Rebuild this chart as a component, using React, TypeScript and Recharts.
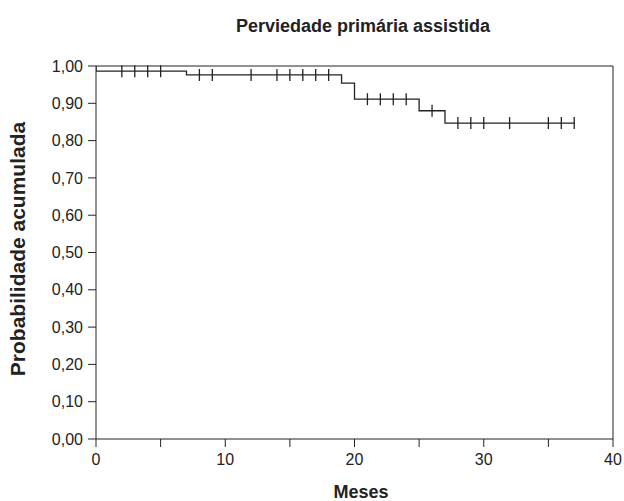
import { ComposedChart, Line, Scatter, XAxis, YAxis, ReferenceLine } from 'recharts';

// Kaplan-Meier step points (time in months, cumulative probability)
const stepTimes = [0, 0, 7, 19, 20, 25, 27, 37];
const stepSurv = [1.0, 0.986, 0.976, 0.954, 0.911, 0.88, 0.847, 0.847];

// censored observations (months)
const censorTimes = [2, 3, 4, 5, 8, 9, 12, 14, 15, 16, 17, 18, 21, 22, 23, 24, 26, 28, 29, 30, 32, 35, 36, 37];

const xTicks = [0, 5, 10, 15, 20, 25, 30, 35, 40];
const yTicks = [0, 0.1, 0.2, 0.3, 0.4, 0.5, 0.6, 0.7, 0.8, 0.9, 1.0];

const stepData = stepTimes.map((t, i) => ({ t, s: stepSurv[i] }));

const survAt = (t: number) => {
  let s = stepSurv[0];
  stepTimes.forEach((st, i) => {
    if (st <= t) s = stepSurv[i];
  });
  return s;
};
const censorData = censorTimes.map((t) => ({ t, s: survAt(t) }));

const font = '"Liberation Sans", Arial, sans-serif';

const CensorMark = (props: any) => {
  const { cx, cy } = props;
  return <line x1={cx} x2={cx} y1={cy - 6} y2={cy + 6} stroke="#222" strokeWidth={1.3} />;
};

const fmtY = (v: number) => v.toFixed(2).replace('.', ',');
const fmtX = (v: number) => (v % 10 === 0 ? String(v) : '');

export default function App() {
  return (
    <div style={{ position: 'absolute', left: 0, top: 0, width: 624, height: 501, background: '#fff', fontFamily: font }}>
      <ComposedChart width={624} height={501} margin={{ top: 66, right: 11, bottom: 0, left: 0 }}>
        <XAxis
          type="number"
          dataKey="t"
          domain={[0, 40]}
          ticks={xTicks}
          interval={0}
          allowDataOverflow
          height={62}
          stroke="#222"
          tickSize={8}
          tickMargin={7}
          tickFormatter={fmtX}
          tick={{ fill: '#222', fontSize: 16, fontFamily: font }}
        />
        <YAxis
          type="number"
          dataKey="s"
          domain={[0, 1]}
          ticks={yTicks}
          interval={0}
          width={96}
          stroke="#222"
          tickSize={8}
          tickMargin={5}
          tickFormatter={fmtY}
          tick={{ fill: '#222', fontSize: 16, fontFamily: font }}
        />
        <ReferenceLine y={1} stroke="#222" />
        <ReferenceLine x={40} stroke="#222" />
        <Line
          data={stepData}
          dataKey="s"
          type="stepAfter"
          stroke="#222"
          strokeWidth={1.3}
          dot={false}
          isAnimationActive={false}
        />
        <Scatter data={censorData} dataKey="s" shape={<CensorMark />} isAnimationActive={false} />
      </ComposedChart>
      <div style={{ position: 'absolute', left: 0, width: 726, top: 16, textAlign: 'center', fontWeight: 'bold', fontSize: 18, color: '#222' }}>
        Perviedade primária assistida
      </div>
      <div style={{ position: 'absolute', left: 0, width: 722, top: 482, textAlign: 'center', fontWeight: 'bold', fontSize: 18, color: '#222' }}>
        Meses
      </div>
      <div
        style={{
          position: 'absolute',
          left: 18,
          top: 249,
          transform: 'translate(-50%, -50%) rotate(-90deg)',
          whiteSpace: 'nowrap',
          fontWeight: 'bold',
          fontSize: 21,
          color: '#222',
        }}
      >
        Probabilidade acumulada
      </div>
    </div>
  );
}
